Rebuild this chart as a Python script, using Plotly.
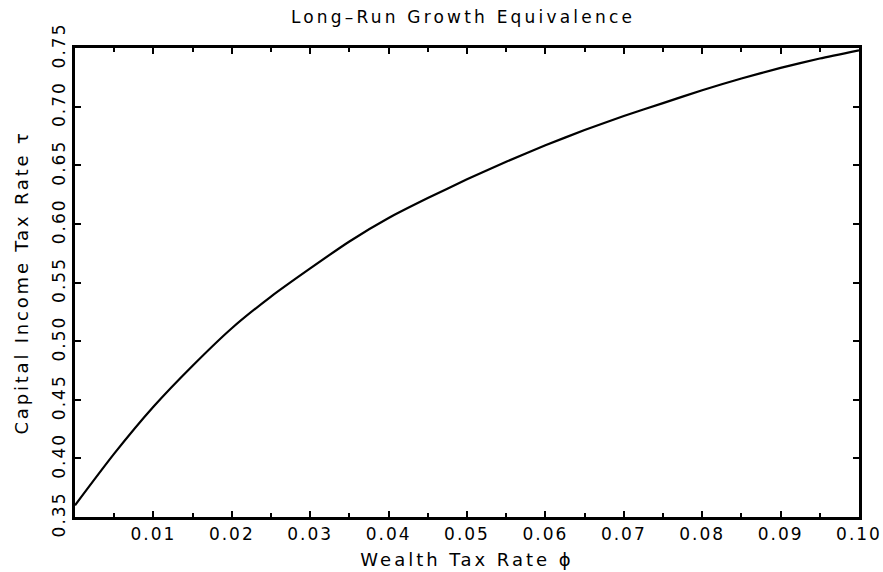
import plotly.graph_objects as go

wealth_tax = [0.0, 0.005, 0.01, 0.015, 0.02, 0.025, 0.03, 0.035, 0.04, 0.045, 0.05,
              0.055, 0.06, 0.065, 0.07, 0.075, 0.08, 0.085, 0.09, 0.095, 0.10]
capital_tax = [0.360, 0.404, 0.444, 0.479, 0.511, 0.538, 0.562, 0.585, 0.605, 0.622, 0.638,
               0.653, 0.667, 0.680, 0.692, 0.703, 0.714, 0.724, 0.733, 0.741, 0.748]

x_ticks = [0.01, 0.02, 0.03, 0.04, 0.05, 0.06, 0.07, 0.08, 0.09, 0.10]
x_labels = ["0.01", "0.02", "0.03", "0.04", "0.05", "0.06", "0.07", "0.08", "0.09", "0.10"]
y_ticks = [0.35, 0.40, 0.45, 0.50, 0.55, 0.60, 0.65, 0.70, 0.75]
y_labels = ["0.35", "0.40", "0.45", "0.50", "0.55", "0.60", "0.65", "0.70", "0.75"]

FONT = "DejaVu Sans"

fig = go.Figure()
fig.add_trace(go.Scatter(x=wealth_tax, y=capital_tax, mode="lines",
                         line=dict(color="black", width=2.2, shape="spline", smoothing=0.6),
                         showlegend=False, hoverinfo="skip"))

fig.update_layout(
    width=883, height=572,
    margin=dict(l=75, r=24, t=48, b=55),
    paper_bgcolor="white", plot_bgcolor="white",
    font=dict(family=FONT, color="black", size=17),
    title=dict(text="Long\u2013Run Growth Equivalence", x=463 / 883, xanchor="center",
               y=1 - 17 / 572, yanchor="middle", font=dict(size=17, family=FONT)),
)

fig.update_xaxes(
    automargin=False,
    range=[0, 0.10], tickvals=x_ticks, ticktext=x_labels,
    ticks="inside", ticklen=6, tickwidth=2, tickcolor="black",
    minor=dict(dtick=0.005, tick0=0, ticks="inside", ticklen=4, tickwidth=2, tickcolor="black"),
    showline=True, linewidth=3, linecolor="black", mirror="ticks",
    showgrid=False, zeroline=False,
    tickfont=dict(size=17, family=FONT),
    title=dict(text="Wealth Tax Rate \u03d5", font=dict(size=18, family=FONT), standoff=10),
)
fig.update_yaxes(
    automargin=False,
    range=[0.35, 0.75], tickvals=y_ticks, ticktext=y_labels, tickangle=-90,
    ticks="inside", ticklen=6, tickwidth=2, tickcolor="black",
    showline=True, linewidth=3, linecolor="black", mirror="ticks",
    showgrid=False, zeroline=False,
    tickfont=dict(size=17, family=FONT),
    title=dict(text="Capital Income Tax Rate \u03c4", font=dict(size=18, family=FONT), standoff=16),
)

spacing_js = """
var sp = [['.gtitle', '3.2px'], ['.xtitle', '3px'], ['.ytitle', '2.8px'],
          ['.xtick text', '2px'], ['.ytick text', '2px']];
sp.forEach(function(p){
  document.querySelectorAll(p[0]).forEach(function(el){ el.style.letterSpacing = p[1]; });
});
"""

fig.write_html("out.html", post_script=spacing_js)
